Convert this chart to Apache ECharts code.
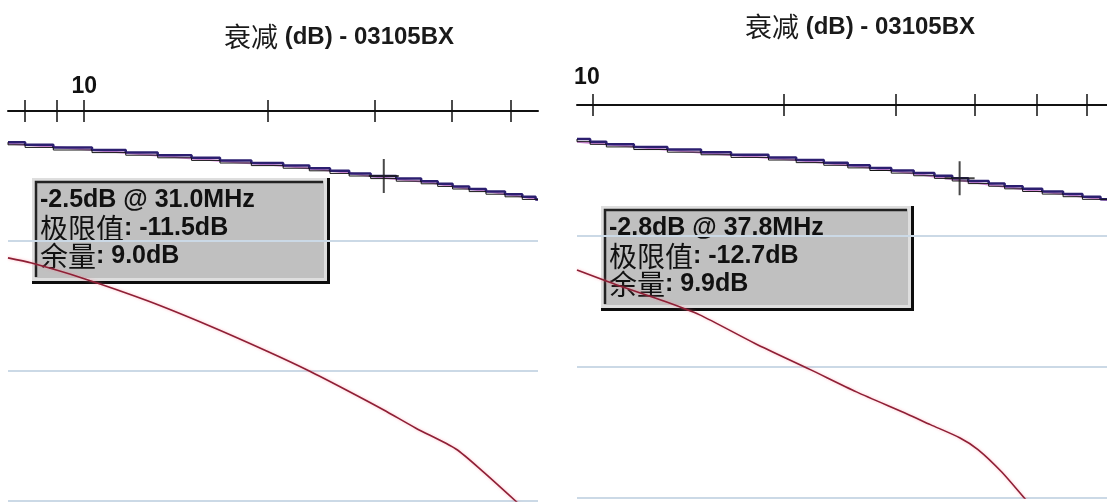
<!DOCTYPE html>
<html>
<head>
<meta charset="utf-8">
<script src="https://cdn.jsdelivr.net/npm/echarts@6/dist/echarts.min.js"></script>
<style>
  html, body { margin: 0; padding: 0; background: #fff; }
  #chart { width: 1107px; height: 502px; }
</style>
</head>
<body>
<div id="chart"></div>
<script>
// ---- data -------------------------------------------------------------
const chartTitle = ['衰减', ' (dB) - 03105BX'];

// frequency ticks (MHz) on the top log axis of each plot
const tickFreqLeft = [8, 9, 10, 20, 30, 40, 50];
const tickFreqRight = [10, 20, 30, 40, 50, 60];
const labelFreq = [10];

// attenuation trace, quantised to 0.1 dB: [MHz, dB]
const stepsLeft = [
  [7.5, -1.2], [8.0, -1.3], [8.9, -1.4], [10.3, -1.5], [11.7, -1.6], [13.2, -1.7],
  [15.0, -1.8], [16.7, -1.9], [18.8, -2.0], [21.2, -2.1], [23.4, -2.2], [25.3, -2.3],
  [27.2, -2.4], [29.5, -2.5], [32.5, -2.6], [35.7, -2.7], [38.0, -2.8], [40.2, -2.9],
  [42.8, -3.0], [45.6, -3.1], [49.0, -3.2], [52.3, -3.3], [55.0, -3.4], [55.5, -3.4]
];
const stepsRight = [
  [9.44, -1.3], [9.9, -1.4], [10.5, -1.5], [11.6, -1.6], [13.1, -1.7], [14.8, -1.8],
  [16.5, -1.9], [18.9, -2.0], [20.9, -2.1], [23.1, -2.2], [25.2, -2.3], [27.3, -2.4],
  [29.5, -2.5], [32.0, -2.6], [34.5, -2.7], [36.8, -2.8], [39.0, -2.9], [42.0, -3.0],
  [44.5, -3.1], [47.5, -3.2], [51.0, -3.3], [55.0, -3.4], [59.0, -3.5], [63.0, -3.6],
  [64.5, -3.6]
];

// second (unquantised) trace: [MHz, dB]
const traceLeft = [
  [7.5, -1.25], [10, -1.47], [13, -1.7], [17, -1.93], [22, -2.14], [26, -2.33],
  [31, -2.57], [36, -2.72], [41, -2.93], [47, -3.13], [55.5, -3.4]
];
const traceRight = [
  [9.44, -1.4], [12, -1.62], [15, -1.83], [19, -2.02], [23, -2.2], [28, -2.43],
  [33, -2.66], [37.8, -2.87], [43, -3.07], [50, -3.28], [57, -3.45], [64.5, -3.63]
];

// limit lines: [MHz, dB]
const limitLeft = [
  [7.5, -5.65], [8.2, -5.85], [10, -6.45], [12.7, -7.3], [16, -8.25], [20, -9.25],
  [23.4, -10.0], [27, -10.75], [31, -11.5], [35, -12.2], [40.7, -13.0], [45, -13.85],
  [51, -15.0], [55.5, -15.8]
];
const limitRight = [
  [9.44, -6.3], [11, -6.9], [13, -7.5], [14.7, -8.0], [18, -9.1], [22, -10.1],
  [26, -10.95], [31.3, -11.8], [34, -12.2], [37.8, -12.7], [40.4, -13.15], [44, -14.0],
  [48.4, -15.15], [55, -16.6], [64.5, -18.4]
];

// cursor readouts
const markerFreq = [31.0, 37.8];
const markerValue = [-2.5, -2.8];
const markerLimit = [-11.5, -12.7];

// ---- layout -------------------------------------------------------------
const panels = [
  { left: 8, top: 111, width: 530, height: 390, xMin: 7.5, xMax: 55.5,
    ticks: tickFreqLeft, steps: stepsLeft, trace: traceLeft, limit: limitLeft,
    labelMargin: 13, labelPad: [0, 0, 0, 0],
    title: { x: 339, y: 37 }, box: { x: 32, y: 178, w: 298, h: 106 } },
  { left: 577, top: 105, width: 530, height: 393, xMin: 9.44, xMax: 64.5,
    ticks: tickFreqRight, steps: stepsRight, trace: traceRight, limit: limitRight,
    labelMargin: 16, labelPad: [0, 12, 0, 0],
    title: { x: 860, y: 27 }, box: { x: 601, y: 206, w: 313, h: 105 } }
];

const latin = '"Liberation Sans", Arial, sans-serif';
const cjk = '"Noto Sans CJK SC", sans-serif';

const grid = [], xAxis = [], yAxis = [], series = [], graphic = [];

panels.forEach((p, i) => {
  grid.push({ left: p.left, top: p.top, width: p.width, height: p.height, containLabel: false });

  // main axis: line, outward ticks and the "10" label
  xAxis.push({
    type: 'log', logBase: 10, gridIndex: i, position: 'top', min: p.xMin, max: p.xMax,
    axisLine: { show: true, onZero: false, lineStyle: { color: '#111', width: 2 } },
    axisTick: { show: true, length: 11, inside: false, customValues: p.ticks,
                lineStyle: { color: '#111', width: 1.5 } },
    axisLabel: { show: true, customValues: labelFreq, margin: p.labelMargin, padding: p.labelPad,
                 fontFamily: latin, fontWeight: 'bold', fontSize: 23, color: '#111',
                 formatter: v => String(v) },
    splitLine: { show: false }, minorTick: { show: false }
  });
  // companion axis carrying the inward half of each tick
  xAxis.push({
    type: 'log', logBase: 10, gridIndex: i, position: 'top', min: p.xMin, max: p.xMax,
    axisLine: { show: false },
    axisTick: { show: true, length: 11, inside: true, customValues: p.ticks,
                lineStyle: { color: '#111', width: 1.5 } },
    axisLabel: { show: false }, splitLine: { show: false }
  });

  yAxis.push({
    type: 'value', gridIndex: i, min: -15, max: 0, interval: 5,
    axisLine: { show: false }, axisTick: { show: false }, axisLabel: { show: false },
    splitLine: { show: true, lineStyle: { color: '#cbd9e6', width: 2 } }
  });

  const xi = i * 2;
  series.push({
    type: 'line', xAxisIndex: xi, yAxisIndex: i, data: p.limit, symbol: 'none',
    silent: true, animation: false, smooth: 0.25,
    lineStyle: { color: '#8e1f35', width: 1.6, shadowColor: 'rgba(255,120,140,0.55)', shadowBlur: 3 }
  });
  series.push({
    type: 'line', xAxisIndex: xi, yAxisIndex: i, data: p.trace, symbol: 'none',
    silent: true, animation: false, smooth: true,
    lineStyle: { color: '#d98fe0', width: 2 }
  });
  series.push({
    type: 'line', xAxisIndex: xi, yAxisIndex: i, data: p.steps, symbol: 'none', step: 'end',
    silent: true, animation: false,
    lineStyle: { color: '#2c1f70', width: 2.5 }
  });
  series.push({
    type: 'line', xAxisIndex: xi, yAxisIndex: i, data: p.steps, symbol: 'none', step: 'start',
    silent: true, animation: false,
    lineStyle: { color: '#151515', width: 1 }
  });
  // cursor cross
  series.push({
    type: 'scatter', xAxisIndex: xi, yAxisIndex: i,
    data: [[markerFreq[i], markerValue[i]]],
    symbol: 'path://M14,0h2v34h-2z M0,16h30v2h-30z', symbolSize: [30, 34],
    itemStyle: { color: '#1a1a1a' }, silent: true, animation: false, z: 5
  });

  // plot title
  graphic.push({
    type: 'text', z: 10,
    style: {
      x: p.title.x, y: p.title.y, align: 'center', verticalAlign: 'middle',
      text: '{c|' + chartTitle[0] + '}{n|' + chartTitle[1] + '}',
      rich: {
        c: { fontFamily: cjk, fontSize: 27, fill: '#1a1a1a' },
        n: { fontFamily: latin, fontWeight: 'bold', fontSize: 24, fill: '#1a1a1a' }
      }
    }
  });

  // cursor readout box
  const b = p.box;
  const margin = markerValue[i] - markerLimit[i];
  const lines = [
    '{n|' + markerValue[i].toFixed(1) + 'dB @ ' + markerFreq[i].toFixed(1) + 'MHz}',
    '{c|极限值}{n|: ' + markerLimit[i].toFixed(1) + 'dB}',
    '{c|余量}{n|: ' + margin.toFixed(1) + 'dB}'
  ];
  const rich = {
    c: { fontFamily: cjk, fontSize: 28, fill: '#111', lineHeight: 28 },
    n: { fontFamily: latin, fontWeight: 'bold', fontSize: 25, fill: '#111', lineHeight: 28 }
  };
  graphic.push({
    type: 'group', z: 20,
    children: [
      { type: 'rect', shape: { x: b.x, y: b.y, width: b.w, height: b.h }, style: { fill: '#0d0d0d' } },
      { type: 'rect', shape: { x: b.x, y: b.y, width: b.w - 3, height: b.h - 3 }, style: { fill: '#dedede' } },
      { type: 'rect', shape: { x: b.x + 3, y: b.y + 3, width: b.w - 9, height: b.h - 9 }, style: { fill: '#c0c0c0' } },
      { type: 'polyline', shape: { points: [[b.x + 4, b.y + b.h - 7], [b.x + 4, b.y + 4], [b.x + b.w - 7, b.y + 4]] },
        style: { stroke: '#222', lineWidth: 2.5, fill: null } },
      { type: 'text', style: { x: b.x + 8, y: b.y + 8, align: 'left', verticalAlign: 'top',
        text: lines.join('\n'), rich: rich } }
    ]
  });
});

const chart = echarts.init(document.getElementById('chart'), null, { renderer: 'canvas' });
chart.setOption({
  backgroundColor: '#ffffff',
  animation: false,
  grid, xAxis, yAxis, series, graphic
});
</script>
</body>
</html>
